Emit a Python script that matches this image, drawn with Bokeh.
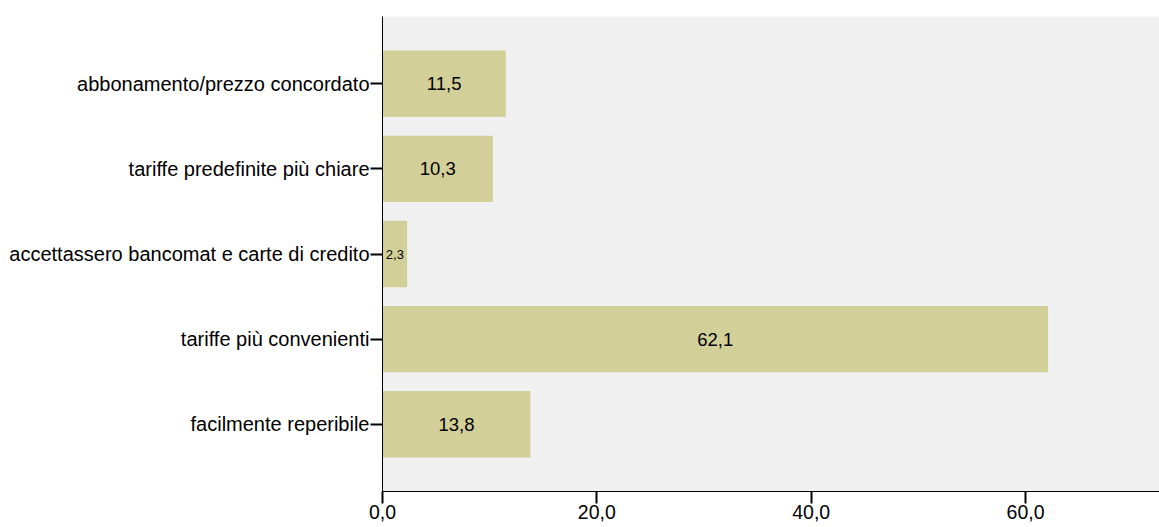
from bokeh.plotting import figure
from bokeh.models import FactorRange, Range1d, FixedTicker, ColumnDataSource
from bokeh.embed import file_html
from bokeh.resources import INLINE
from bokeh.core.properties import value

categories = ["facilmente reperibile", "tariffe più convenienti",
              "accettassero bancomat e carte di credito",
              "tariffe predefinite più chiare", "abbonamento/prezzo concordato"]
values = [13.8, 62.1, 2.3, 10.3, 11.5]
value_labels = ["13,8", "62,1", "2,3", "10,3", "11,5"]
label_sizes = ["18.5px", "18.5px", "13px", "18.5px", "18.5px"]
tick_values = [0, 20, 40, 60]
tick_labels = ["0,0", "20,0", "40,0", "60,0"]

FONT = "Liberation Sans"

src = ColumnDataSource(dict(cat=categories, val=values,
                            mid=[v / 2 for v in values],
                            lab=value_labels, size=label_sizes))

p = figure(width=1159, height=527, output_backend="svg", toolbar_location=None,
           y_range=FactorRange(*categories, range_padding=0.29, range_padding_units="absolute"),
           x_range=Range1d(0, 72.5),
           min_border_left=382, min_border_top=16, min_border_right=0, min_border_bottom=36)

p.background_fill_color = "#f0f0f0"
p.border_fill_color = "white"
p.outline_line_color = None
p.grid.visible = False

p.hbar(y="cat", right="val", left=0, height=0.78, source=src,
       fill_color="#d3cf99", line_color=None)
p.text(x="mid", y="cat", text="lab", source=src, text_font=value(FONT),
       text_font_size="size", text_align="center", text_baseline="middle",
       text_color="black")

p.xaxis.ticker = FixedTicker(ticks=tick_values)
p.xaxis.major_label_overrides = {t: l for t, l in zip(tick_values, tick_labels)}
p.xaxis.minor_tick_line_color = None
for ax in (p.xaxis, p.yaxis):
    ax.axis_line_color = "black"
    ax.axis_line_width = 1
    ax.major_tick_line_color = "black"
    ax.major_tick_line_width = 2
    ax.major_tick_in = 0
    ax.major_label_text_font = FONT
    ax.major_label_text_color = "black"
p.xaxis.major_label_text_font_size = "19.5px"
p.yaxis.major_label_text_font_size = "20px"
p.xaxis.major_tick_out = 12
p.xaxis.major_label_standoff = 1
p.yaxis.major_tick_out = 12
p.yaxis.major_label_standoff = 1

open("out.html", "w").write(file_html(p, INLINE))
